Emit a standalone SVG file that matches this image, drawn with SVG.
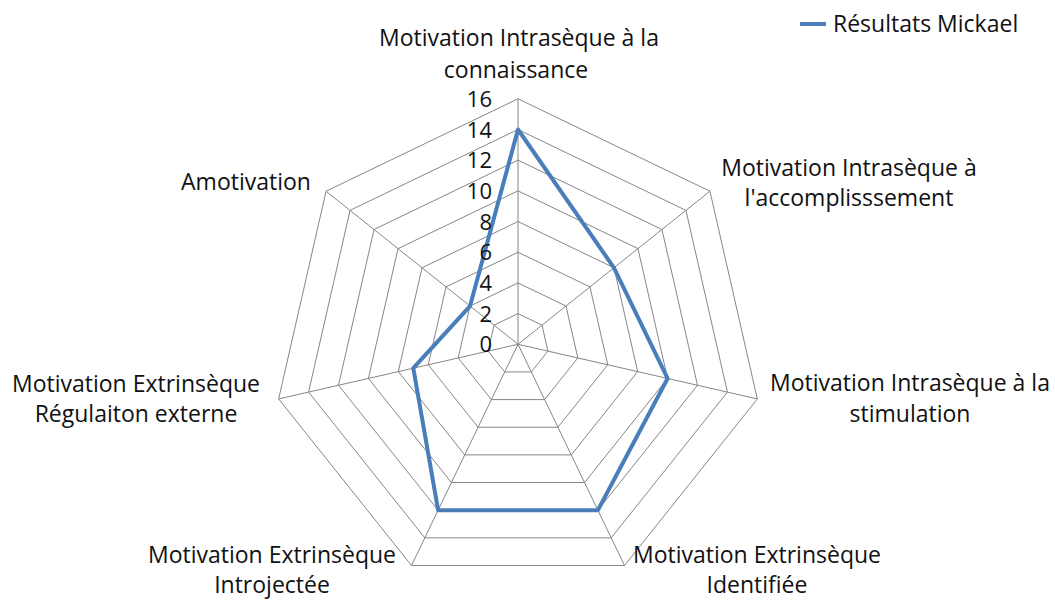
<svg xmlns="http://www.w3.org/2000/svg" width="1055" height="601" viewBox="0 0 1055 601">
<style>
.grid{fill:none;stroke:#868686;stroke-width:1}
.series{fill:none;stroke:#4A7EBB;stroke-width:4;stroke-linejoin:round;stroke-linecap:round}
text{font-family:"Open Sans","Liberation Sans",sans-serif;font-size:23px;fill:#111}
.tick{text-anchor:end;font-size:22px}
.lbl{text-anchor:middle}
</style>
<rect width="1055" height="601" fill="#ffffff"/>
<g id="chart" transform="translate(518,344.3)">
<g id="grid">
<polygon class="grid" points="0,-30.69 23.99,-19.13 29.92,6.83 13.31,27.65 -13.31,27.65 -29.92,6.83 -23.99,-19.13"/>
<polygon class="grid" points="0,-61.38 47.98,-38.27 59.84,13.66 26.63,55.30 -26.63,55.30 -59.84,13.66 -47.98,-38.27"/>
<polygon class="grid" points="0,-92.06 71.98,-57.40 89.75,20.49 39.94,82.95 -39.94,82.95 -89.75,20.49 -71.98,-57.40"/>
<polygon class="grid" points="0,-122.75 95.97,-76.53 119.67,27.31 53.26,110.59 -53.26,110.59 -119.67,27.31 -95.97,-76.53"/>
<polygon class="grid" points="0,-153.44 119.96,-95.67 149.59,34.14 66.57,138.24 -66.57,138.24 -149.59,34.14 -119.96,-95.67"/>
<polygon class="grid" points="0,-184.13 143.95,-114.80 179.51,40.97 79.89,165.89 -79.89,165.89 -179.51,40.97 -143.95,-114.80"/>
<polygon class="grid" points="0,-214.81 167.95,-133.93 209.43,47.80 93.20,193.54 -93.20,193.54 -209.43,47.80 -167.95,-133.93"/>
<polygon class="grid" points="0,-245.5 191.94,-153.07 239.34,54.63 106.52,221.19 -106.52,221.19 -239.34,54.63 -191.94,-153.07"/>
</g>
<g id="axes" class="grid">
<line x1="0" y1="0" x2="0" y2="-245.5"/>
<line x1="0" y1="0" x2="191.94" y2="-153.07"/>
<line x1="0" y1="0" x2="239.34" y2="54.63"/>
<line x1="0" y1="0" x2="106.52" y2="221.19"/>
<line x1="0" y1="0" x2="-106.52" y2="221.19"/>
<line x1="0" y1="0" x2="-239.34" y2="54.63"/>
<line x1="0" y1="0" x2="-191.94" y2="-153.07"/>
</g>
<g id="series-mickael">
<polygon class="series" points="0,-214.81 95.97,-76.53 149.59,34.14 79.89,165.89 -79.89,165.89 -104.72,23.90 -47.98,-38.27"/>
</g>
<g id="ticks">
<text class="tick" x="-26" y="8">0</text>
<text class="tick" x="-26" y="-22.69">2</text>
<text class="tick" x="-26" y="-53.38">4</text>
<text class="tick" x="-26" y="-84.06">6</text>
<text class="tick" x="-26" y="-114.75">8</text>
<text class="tick" x="-26" y="-145.44">10</text>
<text class="tick" x="-26" y="-176.13">12</text>
<text class="tick" x="-26" y="-206.81">14</text>
<text class="tick" x="-26" y="-237.5">16</text>
</g>
</g>
<g id="label-connaissance">
<text class="lbl" x="519" y="46">Motivation Intrasèque à la</text>
<text class="lbl" x="516" y="78">connaissance</text>
</g>
<g id="label-accomplissement">
<text class="lbl" x="849" y="176">Motivation Intrasèque à</text>
<text class="lbl" x="849" y="206">l'accomplisssement</text>
</g>
<g id="label-stimulation">
<text class="lbl" x="910" y="391">Motivation Intrasèque à la</text>
<text class="lbl" x="910" y="422">stimulation</text>
</g>
<g id="label-identifiee">
<text class="lbl" x="757" y="563">Motivation Extrinsèque</text>
<text class="lbl" x="757" y="593">Identifiée</text>
</g>
<g id="label-introjectee">
<text class="lbl" x="272" y="563">Motivation Extrinsèque</text>
<text class="lbl" x="272" y="593">Introjectée</text>
</g>
<g id="label-regulation">
<text class="lbl" x="136" y="392">Motivation Extrinsèque</text>
<text class="lbl" x="136" y="422">Régulaiton externe</text>
</g>
<g id="label-amotivation">
<text class="lbl" x="246" y="190">Amotivation</text>
</g>
<g id="legend">
<line x1="800" y1="24" x2="826" y2="24" stroke="#4A7EBB" stroke-width="4"/>
<text x="833" y="32">Résultats Mickael</text>
</g>
</svg>
